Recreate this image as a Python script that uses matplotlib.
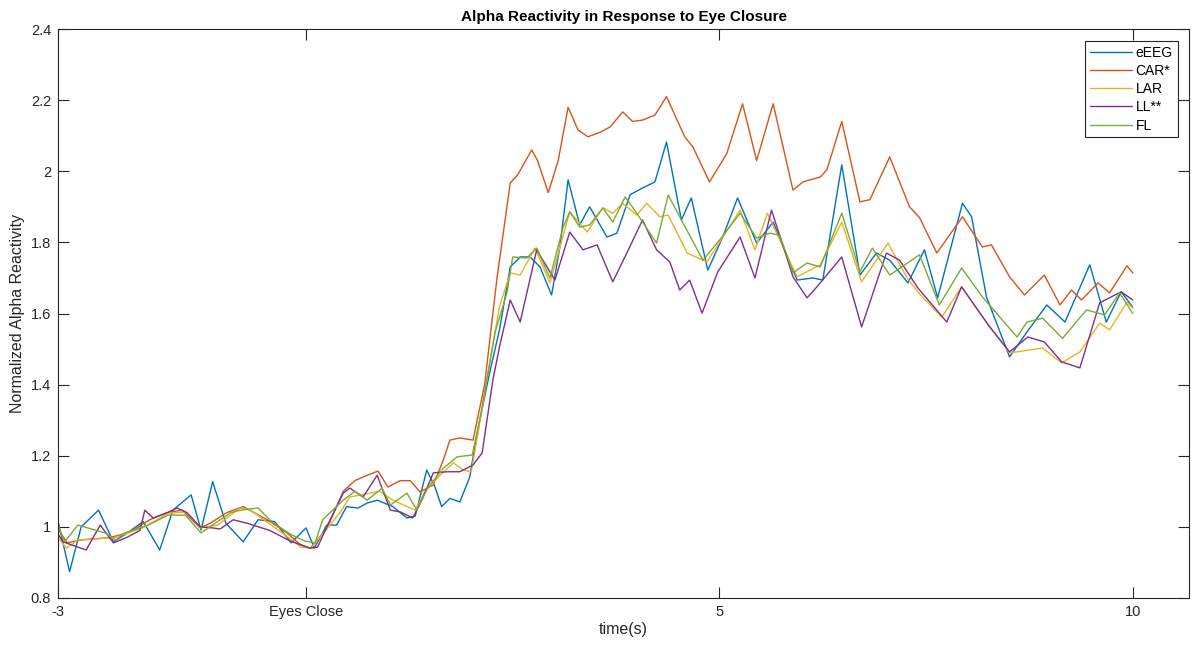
import numpy as np
import matplotlib.pyplot as plt

plt.rcParams['font.family'] = ['Liberation Sans', 'DejaVu Sans']

# time (s) and normalized alpha reactivity per montage
t_eeeg = [-3.00, -2.86, -2.72, -2.51, -2.33, -2.19, -1.97, -1.77, -1.61, -1.39, -1.27, -1.13,
          -0.97, -0.76, -0.58, -0.38, -0.18, 0.00, 0.10, 0.25, 0.37, 0.49, 0.63, 0.74, 0.86,
          1.05, 1.22, 1.32, 1.46, 1.56, 1.64, 1.74, 1.86, 1.98, 2.07, 2.22, 2.34, 2.47, 2.59,
          2.71, 2.83, 2.97, 3.07, 3.17, 3.31, 3.43, 3.64, 3.76, 3.92, 4.07, 4.22, 4.36, 4.54,
          4.66, 4.86, 5.04, 5.22, 5.45, 5.65, 5.94, 6.13, 6.25, 6.48, 6.70, 6.90, 7.06, 7.28,
          7.48, 7.64, 7.94, 8.05, 8.23, 8.51, 8.72, 8.96, 9.18, 9.48, 9.68, 9.86, 10.00]
v_eeeg = [1.015, 0.874, 1.000, 1.047, 0.958, 0.978, 1.015, 0.935, 1.047, 1.090, 0.991, 1.127,
          1.010, 0.958, 1.020, 1.015, 0.955, 0.997, 0.940, 1.005, 1.005, 1.057, 1.053, 1.067, 1.075,
          1.057, 1.025, 1.030, 1.160, 1.112, 1.057, 1.080, 1.070, 1.140, 1.264, 1.433, 1.554, 1.731, 1.759,
          1.759, 1.731, 1.652, 1.787, 1.976, 1.849, 1.900, 1.815, 1.826, 1.934, 1.953, 1.970, 2.082, 1.863,
          1.925, 1.722, 1.815, 1.925, 1.798, 1.857, 1.694, 1.700, 1.694, 2.018, 1.708, 1.770, 1.750, 1.686,
          1.779, 1.644, 1.910, 1.872, 1.647, 1.478, 1.548, 1.624, 1.576, 1.737, 1.576, 1.661, 1.618]

t_car = [-3.00, -2.89, -2.73, -2.37, -2.13, -1.89, -1.68, -1.50, -1.28, -1.16, -0.96, -0.76,
         -0.47, -0.23, -0.07, 0.05, 0.25, 0.45, 0.59, 0.74, 0.87, 0.99, 1.14, 1.26, 1.38, 1.54,
         1.66, 1.74, 1.86, 2.02, 2.16, 2.31, 2.47, 2.56, 2.73, 2.80, 2.93, 3.05, 3.17, 3.29,
         3.41, 3.56, 3.68, 3.83, 3.95, 4.07, 4.22, 4.36, 4.58, 4.68, 4.88, 5.09, 5.28, 5.45,
         5.65, 5.89, 6.01, 6.22, 6.30, 6.48, 6.70, 6.82, 7.06, 7.30, 7.42, 7.63, 7.94, 8.18,
         8.29, 8.51, 8.69, 8.93, 9.12, 9.26, 9.38, 9.58, 9.72, 9.93, 10.00]
v_car = [0.994, 0.955, 0.963, 0.970, 0.985, 1.020, 1.040, 1.047, 0.997, 1.010, 1.040, 1.057,
         1.020, 0.983, 0.950, 0.940, 0.994, 1.100, 1.130, 1.145, 1.157, 1.112, 1.130, 1.130, 1.098, 1.118,
         1.188, 1.244, 1.250, 1.244, 1.400, 1.700, 1.967, 1.990, 2.060, 2.030, 1.940, 2.030, 2.180, 2.116,
         2.097, 2.110, 2.125, 2.167, 2.140, 2.144, 2.158, 2.210, 2.097, 2.068, 1.970, 2.050, 2.190, 2.030,
         2.190, 1.947, 1.970, 1.984, 2.004, 2.140, 1.914, 1.920, 2.040, 1.900, 1.870, 1.770, 1.872, 1.787,
         1.793, 1.703, 1.652, 1.708, 1.624, 1.666, 1.638, 1.686, 1.658, 1.734, 1.714]

t_lar = [-3.00, -2.90, -2.76, -2.30, -1.95, -1.67, -1.46, -1.27, -1.07, -0.80, -0.67, -0.26,
         -0.06, 0.06, 0.26, 0.41, 0.53, 0.89, 1.05, 1.32, 1.44, 1.62, 1.78, 1.90, 2.00, 2.08,
         2.22, 2.34, 2.47, 2.59, 2.77, 2.95, 3.19, 3.40, 3.59, 3.71, 3.83, 4.00, 4.12, 4.28,
         4.38, 4.61, 4.85, 5.25, 5.43, 5.58, 5.94, 6.22, 6.48, 6.72, 7.04, 7.27, 7.42, 7.69,
         7.93, 8.15, 8.51, 8.91, 9.14, 9.36, 9.60, 9.72, 9.93, 10.00]
v_lar = [0.970, 0.940, 0.963, 0.970, 1.000, 1.038, 1.042, 0.997, 1.005, 1.053, 1.047, 0.978,
         0.943, 0.940, 0.997, 1.040, 1.084, 1.100, 1.075, 1.047, 1.100, 1.145, 1.180, 1.160, 1.155, 1.264,
         1.460, 1.620, 1.714, 1.708, 1.784, 1.686, 1.886, 1.829, 1.897, 1.882, 1.910, 1.877, 1.910, 1.872,
         1.877, 1.770, 1.745, 1.891, 1.779, 1.882, 1.703, 1.737, 1.857, 1.689, 1.798, 1.700, 1.655, 1.590,
         1.675, 1.601, 1.489, 1.503, 1.461, 1.492, 1.573, 1.554, 1.632, 1.615]

t_ll = [-3.00, -2.94, -2.66, -2.49, -2.33, -2.17, -2.01, -1.95, -1.85, -1.68, -1.56, -1.44,
        -1.28, -1.13, -1.04, -0.88, -0.71, -0.44, -0.19, 0.05, 0.14, 0.25, 0.45, 0.53, 0.69,
        0.86, 1.02, 1.14, 1.29, 1.40, 1.54, 1.71, 1.86, 2.02, 2.13, 2.26, 2.34, 2.47, 2.59,
        2.79, 3.01, 3.19, 3.35, 3.52, 3.71, 3.88, 4.07, 4.24, 4.40, 4.52, 4.64, 4.79, 4.98,
        5.25, 5.43, 5.63, 5.89, 6.06, 6.18, 6.48, 6.72, 7.02, 7.18, 7.40, 7.75, 7.93, 8.27,
        8.51, 8.73, 8.93, 9.14, 9.36, 9.60, 9.86, 10.00]
v_ll = [0.980, 0.958, 0.935, 1.005, 0.955, 0.970, 0.990, 1.047, 1.025, 1.040, 1.053, 1.040,
        1.000, 0.997, 0.994, 1.020, 1.010, 0.990, 0.960, 0.940, 0.943, 1.000, 1.095, 1.109, 1.084,
        1.145, 1.047, 1.042, 1.025, 1.075, 1.152, 1.155, 1.155, 1.174, 1.208, 1.413, 1.506, 1.638, 1.576,
        1.779, 1.694, 1.829, 1.779, 1.793, 1.689, 1.770, 1.863, 1.779, 1.745, 1.666, 1.694, 1.601, 1.717,
        1.815, 1.700, 1.891, 1.703, 1.644, 1.675, 1.759, 1.562, 1.770, 1.750, 1.672, 1.576, 1.675, 1.562,
        1.492, 1.534, 1.520, 1.464, 1.447, 1.630, 1.661, 1.638]

t_fl = [-3.00, -2.92, -2.76, -2.43, -2.30, -2.19, -1.91, -1.67, -1.46, -1.27, -1.10, -0.91,
        -0.79, -0.58, -0.42, -0.18, -0.01, 0.11, 0.20, 0.45, 0.59, 0.74, 0.92, 1.02, 1.22,
        1.34, 1.47, 1.66, 1.83, 2.01, 2.10, 2.29, 2.43, 2.50, 2.67, 2.79, 2.95, 3.11, 3.19,
        3.31, 3.43, 3.59, 3.71, 3.86, 4.00, 4.24, 4.38, 4.80, 5.00, 5.25, 5.45, 5.61, 5.73,
        5.89, 6.06, 6.22, 6.48, 6.70, 6.85, 7.06, 7.42, 7.66, 7.93, 8.18, 8.60, 8.72, 8.91,
        9.15, 9.44, 9.66, 9.84, 10.00]
v_fl = [1.005, 0.958, 1.005, 0.983, 0.963, 0.983, 1.005, 1.033, 1.033, 0.983, 1.010, 1.040,
        1.047, 1.053, 1.015, 0.978, 0.960, 0.955, 1.020, 1.075, 1.100, 1.075, 1.109, 1.061, 1.095,
        1.047, 1.109, 1.165, 1.197, 1.202, 1.300, 1.550, 1.658, 1.759, 1.756, 1.784, 1.700, 1.843, 1.886,
        1.843, 1.849, 1.897, 1.857, 1.928, 1.882, 1.798, 1.933, 1.750, 1.806, 1.882, 1.812, 1.826, 1.820,
        1.714, 1.742, 1.731, 1.882, 1.717, 1.784, 1.708, 1.765, 1.624, 1.728, 1.647, 1.534, 1.576, 1.587,
        1.530, 1.610, 1.596, 1.658, 1.600]

series = [
    ("eEEG", t_eeeg, v_eeeg, "#0072BD"),
    ("CAR*", t_car, v_car, "#D95319"),
    ("LAR", t_lar, v_lar, "#EDB120"),
    ("LL**", t_ll, v_ll, "#7E2F8E"),
    ("FL", t_fl, v_fl, "#77AC30"),
]

x_ticks = [-3, 0, 5, 10]
x_tick_labels = ["-3", "Eyes Close", "5", "10"]
y_ticks = np.arange(0.8, 2.41, 0.2)

fig = plt.figure(figsize=(11.94, 6.45), dpi=100)
ax = fig.add_axes([0.0486, 0.0729, 0.9472, 0.8821])

for name, t, v, color in series:
    ax.plot(t, v, color=color, linewidth=1.0, label=name,
            solid_joinstyle="round", solid_capstyle="round")

ax.set_xlim(-3, 10.68)
ax.set_ylim(0.8, 2.4)
ax.set_xticks(x_ticks)
ax.set_xticklabels(x_tick_labels)
ax.set_yticks(y_ticks)
ax.set_yticklabels([f"{y:g}" for y in y_ticks])

axis_color = "#262626"
for spine in ax.spines.values():
    spine.set_color(axis_color)
    spine.set_linewidth(0.8)
ax.tick_params(direction="in", length=8, width=0.8, colors=axis_color,
               labelsize=10.5, top=True, right=True, pad=5)

ax.set_title("Alpha Reactivity in Response to Eye Closure", fontsize=11,
             fontweight="bold", color="black", pad=6)
ax.set_xlabel("time(s)", fontsize=11.5, color=axis_color, labelpad=2)
ax.set_ylabel("Normalized Alpha Reactivity", fontsize=11.5, color=axis_color, labelpad=4)

leg = ax.legend(loc="upper right", bbox_to_anchor=(0.990, 0.979), borderaxespad=0,
                fontsize=10, handlelength=3.0, handletextpad=0.3, labelspacing=0.3,
                borderpad=0.35, fancybox=False, framealpha=1, edgecolor=axis_color)
leg.get_frame().set_linewidth(0.8)

fig.savefig("out.png", dpi=100)
